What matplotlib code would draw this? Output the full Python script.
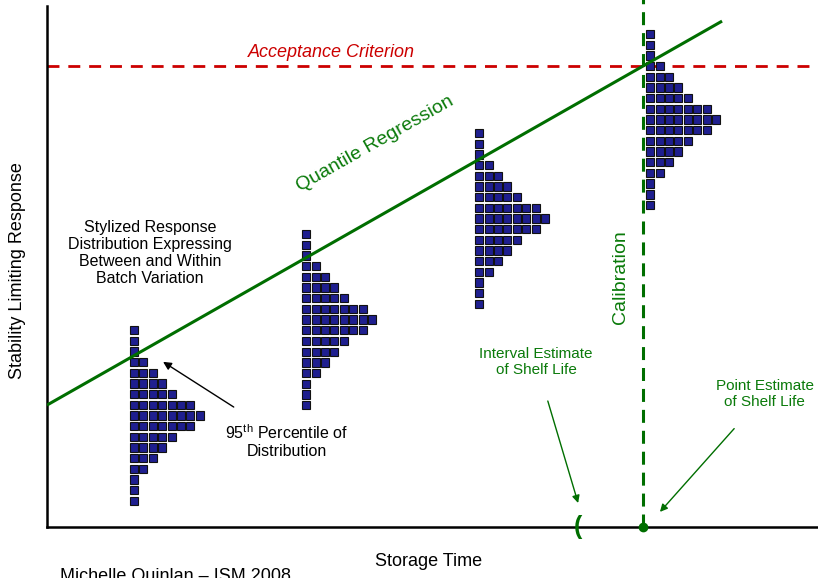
import matplotlib
matplotlib.use("Agg")
import matplotlib.pyplot as plt
import numpy as np

plt.rcParams['font.family'] = ['Liberation Sans', 'DejaVu Sans']
plt.rcParams['mathtext.fontset'] = 'custom'
plt.rcParams['mathtext.rm'] = 'Liberation Sans'

# stylized response distribution: squares per row, bottom to top
row_counts = [1, 1, 1, 2, 3, 4, 5, 7, 8, 7, 5, 4, 3, 2, 1, 1, 1]
stack_times = [2.03, 6.05, 10.09, 14.08]     # centre of first column
stack_bases = [5.0, 23.4, 42.8, 61.8]        # centre of bottom row

# quantile regression line and limits
qr_x = [0.0, 15.76]
qr_y = [23.4, 97.1]
acceptance = 88.5
calibration_time = 13.91
interval_lower = 12.40

col_pitch = 0.22
row_pitch = 2.05
sq_w = 0.187
sq_h = 1.6

green = '#006e00'
text_green = '#0a7a0a'
red = '#cc0000'
navy = '#1f1f8f'

fig = plt.figure(figsize=(8.18, 5.78), dpi=100)
ax = fig.add_axes([47 / 818, 51 / 578, 771 / 818, 521 / 578])
ax.set_xlim(0, 18)
ax.set_ylim(0, 100)
ax.set_xticks([])
ax.set_yticks([])
for side in ['top', 'right']:
    ax.spines[side].set_visible(False)
for side in ['left', 'bottom']:
    ax.spines[side].set_linewidth(1.8)
    ax.spines[side].set_color('black')

# distribution stacks
for t0, base in zip(stack_times, stack_bases):
    for i, n in enumerate(row_counts):
        xs = t0 + np.arange(n) * col_pitch
        ax.bar(xs, sq_h, width=sq_w, bottom=base + i * row_pitch - sq_h / 2,
               color=navy, edgecolor='#111111', linewidth=0.8, zorder=3)

# regression line
ax.plot(qr_x, qr_y, color=green, lw=2.2, zorder=4, solid_capstyle='butt')

# acceptance criterion
ax.axhline(acceptance, color=red, lw=2.0, dashes=(4.3, 3.2), zorder=2)
ax.text(6.65, 91.0, 'Acceptance Criterion', color=red, fontsize=13,
        style='italic', ha='center', va='center')

# calibration line
ax.plot([calibration_time, calibration_time], [0, 102.3], color=green, lw=2.2,
        dashes=(4.25, 2.6), clip_on=False, zorder=2)
ax.plot([calibration_time], [0], 'o', color=green, ms=6, clip_on=False, zorder=5)
ax.text(13.38, 48.0, 'Calibration', color=text_green, fontsize=14,
        rotation=90, ha='center', va='center')

ax.text(7.66, 73.5, 'Quantile Regression', color=text_green, fontsize=14,
        rotation=29.5, rotation_mode='anchor', ha='center', va='center')

ax.text(interval_lower, 0, '(', color=green, fontsize=18, fontweight='bold',
        ha='center', va='center', clip_on=False)

ax.text(2.40, 52.6, 'Stylized Response\nDistribution Expressing\nBetween and Within\nBatch Variation',
        fontsize=11.5, ha='center', va='center', linespacing=1.15)

ax.annotate(r'95$^{\rm th}$ Percentile of' + '\nDistribution', xy=(2.71, 31.7), xytext=(5.60, 16.5),
            fontsize=11.5, ha='center', va='center', linespacing=1.15,
            arrowprops=dict(arrowstyle='-|>', color='black', lw=1.0,
                            shrinkA=18, shrinkB=0, mutation_scale=12))

ax.annotate('Interval Estimate\nof Shelf Life', xy=(12.40, 4.6), xytext=(11.42, 31.7),
            fontsize=11, color=text_green, ha='center', va='center', linespacing=1.2,
            arrowprops=dict(arrowstyle='-|>', color=green, lw=1.0,
                            shrinkA=16, shrinkB=0, mutation_scale=11))

ax.annotate('Point Estimate\nof Shelf Life', xy=(14.31, 2.9), xytext=(16.76, 25.5),
            fontsize=11, color=text_green, ha='center', va='center', linespacing=1.2,
            annotation_clip=False,
            arrowprops=dict(arrowstyle='-|>', color=green, lw=1.0,
                            shrinkA=16, shrinkB=0, mutation_scale=11))

ax.text(8.9, -6.7, 'Storage Time', fontsize=13, ha='center', va='center', clip_on=False)
ax.text(-0.68, 49.3, 'Stability Limiting Response', fontsize=13, rotation=90,
        ha='center', va='center', clip_on=False)

fig.text(60 / 818, 1 - 568 / 578, 'Michelle Quinlan \u2013 ISM 2008', fontsize=13,
         ha='left', va='top')

fig.savefig('out.png', dpi=100, facecolor='white')
